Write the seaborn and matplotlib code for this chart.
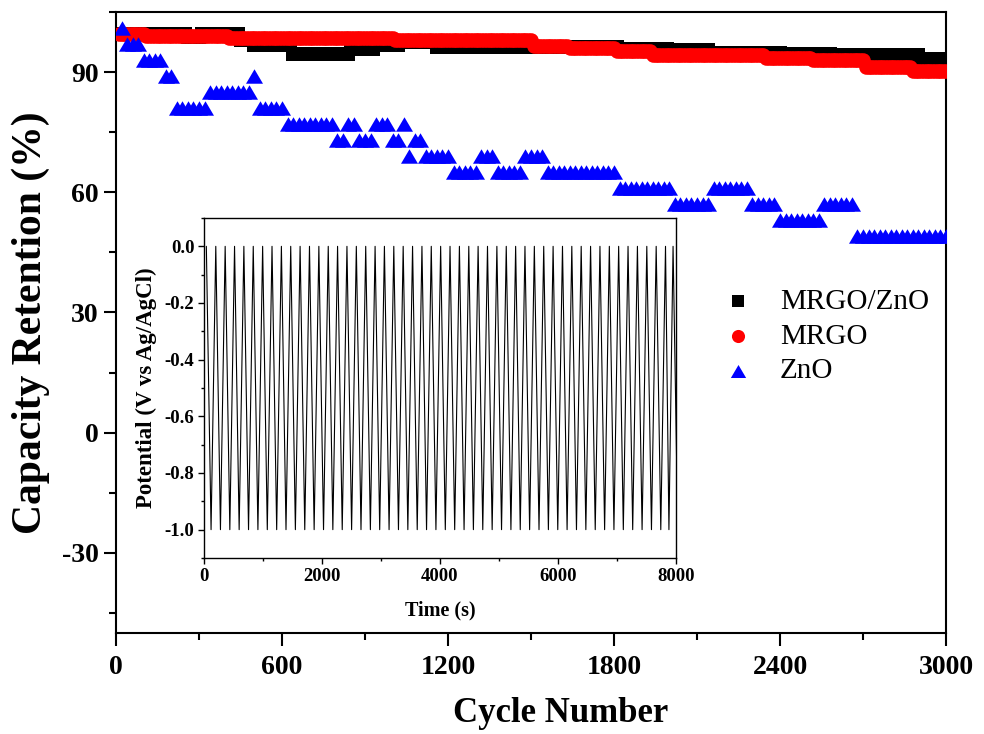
import numpy as np
import pandas as pd
import matplotlib
matplotlib.use("Agg")
import matplotlib.pyplot as plt
from matplotlib.ticker import MultipleLocator
import seaborn as sns

# ---- values ----
# MRGO/ZnO and MRGO: retention (%) held up to the given cycle, points every 10 cycles
mrgo_zno_level = [99.6, 98.7, 99.6, 98.1, 96.8, 94.5, 95.7, 96.8, 97.5, 96.3,
                  95.8, 95.4, 94.8, 94.6, 94.2, 93.3, 94.2, 93.2]
mrgo_zno_until = [250, 300, 440, 490, 630, 840, 930, 1020, 1150, 1810,
                  1990, 2140, 2400, 2580, 2740, 2780, 2900, 3000]
mrgo_level = [99.4, 99.0, 98.4, 97.9, 96.5, 95.9, 95.3, 94.3, 93.5, 93.0, 91.2, 90.2]
mrgo_until = [100, 400, 1000, 1500, 1630, 1800, 1930, 2340, 2510, 2700, 2870, 3000]

# ZnO: retention (%) and number of consecutive points, points every 20 cycles
zno_level = [101, 97, 93, 89, 81, 85, 89, 81, 77, 73, 77, 73, 77, 73, 77,
             69, 73, 69, 65, 69, 65, 69, 65, 61, 57, 61, 57, 53, 57, 49]
zno_points = [1, 3, 4, 2, 6, 8, 1, 5, 9, 2, 2, 3, 3, 2, 1,
              1, 2, 5, 5, 3, 5, 4, 13, 10, 7, 7, 5, 8, 6, 17]

# inset: charge/discharge turning points (s) at 0.0 V and -1.0 V
gcd_top_s = [40, 200, 359, 518, 676, 835, 994, 1153, 1312, 1470, 1629, 1788, 1947,
             2106, 2264, 2423, 2582, 2741, 2900, 3058, 3217, 3376, 3535, 3694, 3852,
             4011, 4170, 4329, 4488, 4646, 4805, 4964, 5123, 5282, 5440, 5599, 5758,
             5917, 6076, 6234, 6393, 6552, 6711, 6870, 7028, 7187, 7346, 7505, 7664,
             7822, 7950]
gcd_bottom_s = [120, 279, 438, 596, 755, 914, 1073, 1232, 1390, 1549, 1708, 1867,
                2026, 2184, 2343, 2502, 2661, 2820, 2978, 3137, 3296, 3455, 3614, 3772,
                3931, 4090, 4249, 4408, 4566, 4725, 4884, 5043, 5202, 5360, 5519, 5678,
                5837, 5996, 6154, 6313, 6472, 6631, 6790, 6948, 7107, 7266, 7425, 7584,
                7742, 7880, 8030]
gcd_top_v = 0.0
gcd_bottom_v = -1.0


def step_series(levels, until, every):
    counts = np.diff([0] + until) // every
    cycles = np.arange(every, until[-1] + 1, every)
    return pd.DataFrame({"cycle": cycles, "retention": np.repeat(levels, counts)})


def run_series(levels, points, every):
    values = np.repeat(levels, points)
    cycles = np.arange(1, len(values) + 1) * every
    return pd.DataFrame({"cycle": cycles, "retention": values})


black_df = step_series(mrgo_zno_level, mrgo_zno_until, 10)
red_df = step_series(mrgo_level, mrgo_until, 10)
blue_df = run_series(zno_level, zno_points, 20)

gcd = pd.DataFrame({
    "time": gcd_top_s + gcd_bottom_s,
    "potential": [gcd_top_v] * len(gcd_top_s) + [gcd_bottom_v] * len(gcd_bottom_s),
}).sort_values("time")

sns.set_style("ticks")
plt.rcParams["font.family"] = ["Liberation Serif", "DejaVu Serif"]
plt.rcParams["axes.unicode_minus"] = False
for key in ["text.color", "axes.labelcolor", "xtick.color", "ytick.color"]:
    plt.rcParams[key] = "black"

# slightly wide triangle, like the original markers
wide_tri = [(0, 0.85), (-1, -0.85), (1, -0.85)]

fig = plt.figure(figsize=(9.84, 7.34), dpi=100)
ax = fig.add_axes([0.1179, 0.1376, 0.8435, 0.8461])

sns.scatterplot(data=black_df, x="cycle", y="retention", ax=ax, marker="s", s=90,
                color="black", linewidth=0, label="MRGO/ZnO", zorder=3)
sns.scatterplot(data=red_df, x="cycle", y="retention", ax=ax, marker="o", s=110,
                color="#ff0000", linewidth=0, label="MRGO", zorder=3)
sns.scatterplot(data=blue_df, x="cycle", y="retention", ax=ax, marker=wide_tri, s=150,
                color="#0000ff", linewidth=0, label="ZnO", zorder=3)

ax.set_xlim(0, 3000)
ax.set_ylim(-50, 105)
ax.xaxis.set_major_locator(MultipleLocator(600))
ax.xaxis.set_minor_locator(MultipleLocator(300))
ax.yaxis.set_major_locator(MultipleLocator(30))
ax.yaxis.set_minor_locator(MultipleLocator(15))
ax.tick_params(which="major", direction="out", length=9, width=1.5, labelsize=20,
               top=False, right=False)
ax.tick_params(axis="x", which="major", pad=7)
ax.tick_params(which="minor", direction="out", length=5, width=1.5, top=False, right=False)
for lab in ax.get_xticklabels() + ax.get_yticklabels():
    lab.set_fontweight("bold")
for s in ["top", "right", "left", "bottom"]:
    ax.spines[s].set_visible(True)
    ax.spines[s].set_linewidth(1.5)
    ax.spines[s].set_color("black")

ax.set_xlabel("Cycle Number", fontsize=25, fontweight="bold")
ax.set_ylabel("Capacity Retention (%)", fontsize=30, fontweight="bold")
ax.xaxis.set_label_coords(0.536, -0.103)
ax.yaxis.set_label_coords(-0.08, 0.5)

ax.legend(loc="center left", bbox_to_anchor=(0.7155, 0.4775), frameon=False,
          fontsize=21, borderpad=0, handlelength=0.9, handletextpad=1.0,
          labelspacing=0.28, markerscale=0.9)

# inset with the charge/discharge curves
ins = fig.add_axes([0.2073, 0.2398, 0.4797, 0.4632])
ins.set_facecolor("white")
sns.lineplot(data=gcd, x="time", y="potential", ax=ins, color="black", lw=0.8,
             estimator=None, sort=True)
ins.set_xlim(0, 8000)
ins.set_ylim(-1.1, 0.1)
ins.xaxis.set_major_locator(MultipleLocator(2000))
ins.xaxis.set_minor_locator(MultipleLocator(1000))
ins.yaxis.set_major_locator(MultipleLocator(0.2))
ins.yaxis.set_minor_locator(MultipleLocator(0.1))
ins.tick_params(which="major", direction="out", length=4, width=1, labelsize=13.5,
                pad=3, top=False, right=False)
ins.tick_params(which="minor", direction="out", length=2.5, width=1, top=False, right=False)
ins.set_xticklabels([f"{v:g}" for v in ins.get_xticks()])
ins.set_yticklabels([f"{v:.1f}" for v in ins.get_yticks()])
for lab in ins.get_xticklabels() + ins.get_yticklabels():
    lab.set_fontweight("bold")
for s in ["top", "right", "left", "bottom"]:
    ins.spines[s].set_visible(True)
    ins.spines[s].set_linewidth(1.0)
    ins.spines[s].set_color("black")
ins.set_xlabel("Time (s)", fontsize=14.5, fontweight="bold")
ins.set_ylabel("Potential (V vs Ag/AgCl)", fontsize=16.5, fontweight="bold")
ins.xaxis.set_label_coords(0.5, -0.125)
ins.yaxis.set_label_coords(-0.1, 0.5)

fig.savefig("out.png", dpi=100)
plt.close(fig)
